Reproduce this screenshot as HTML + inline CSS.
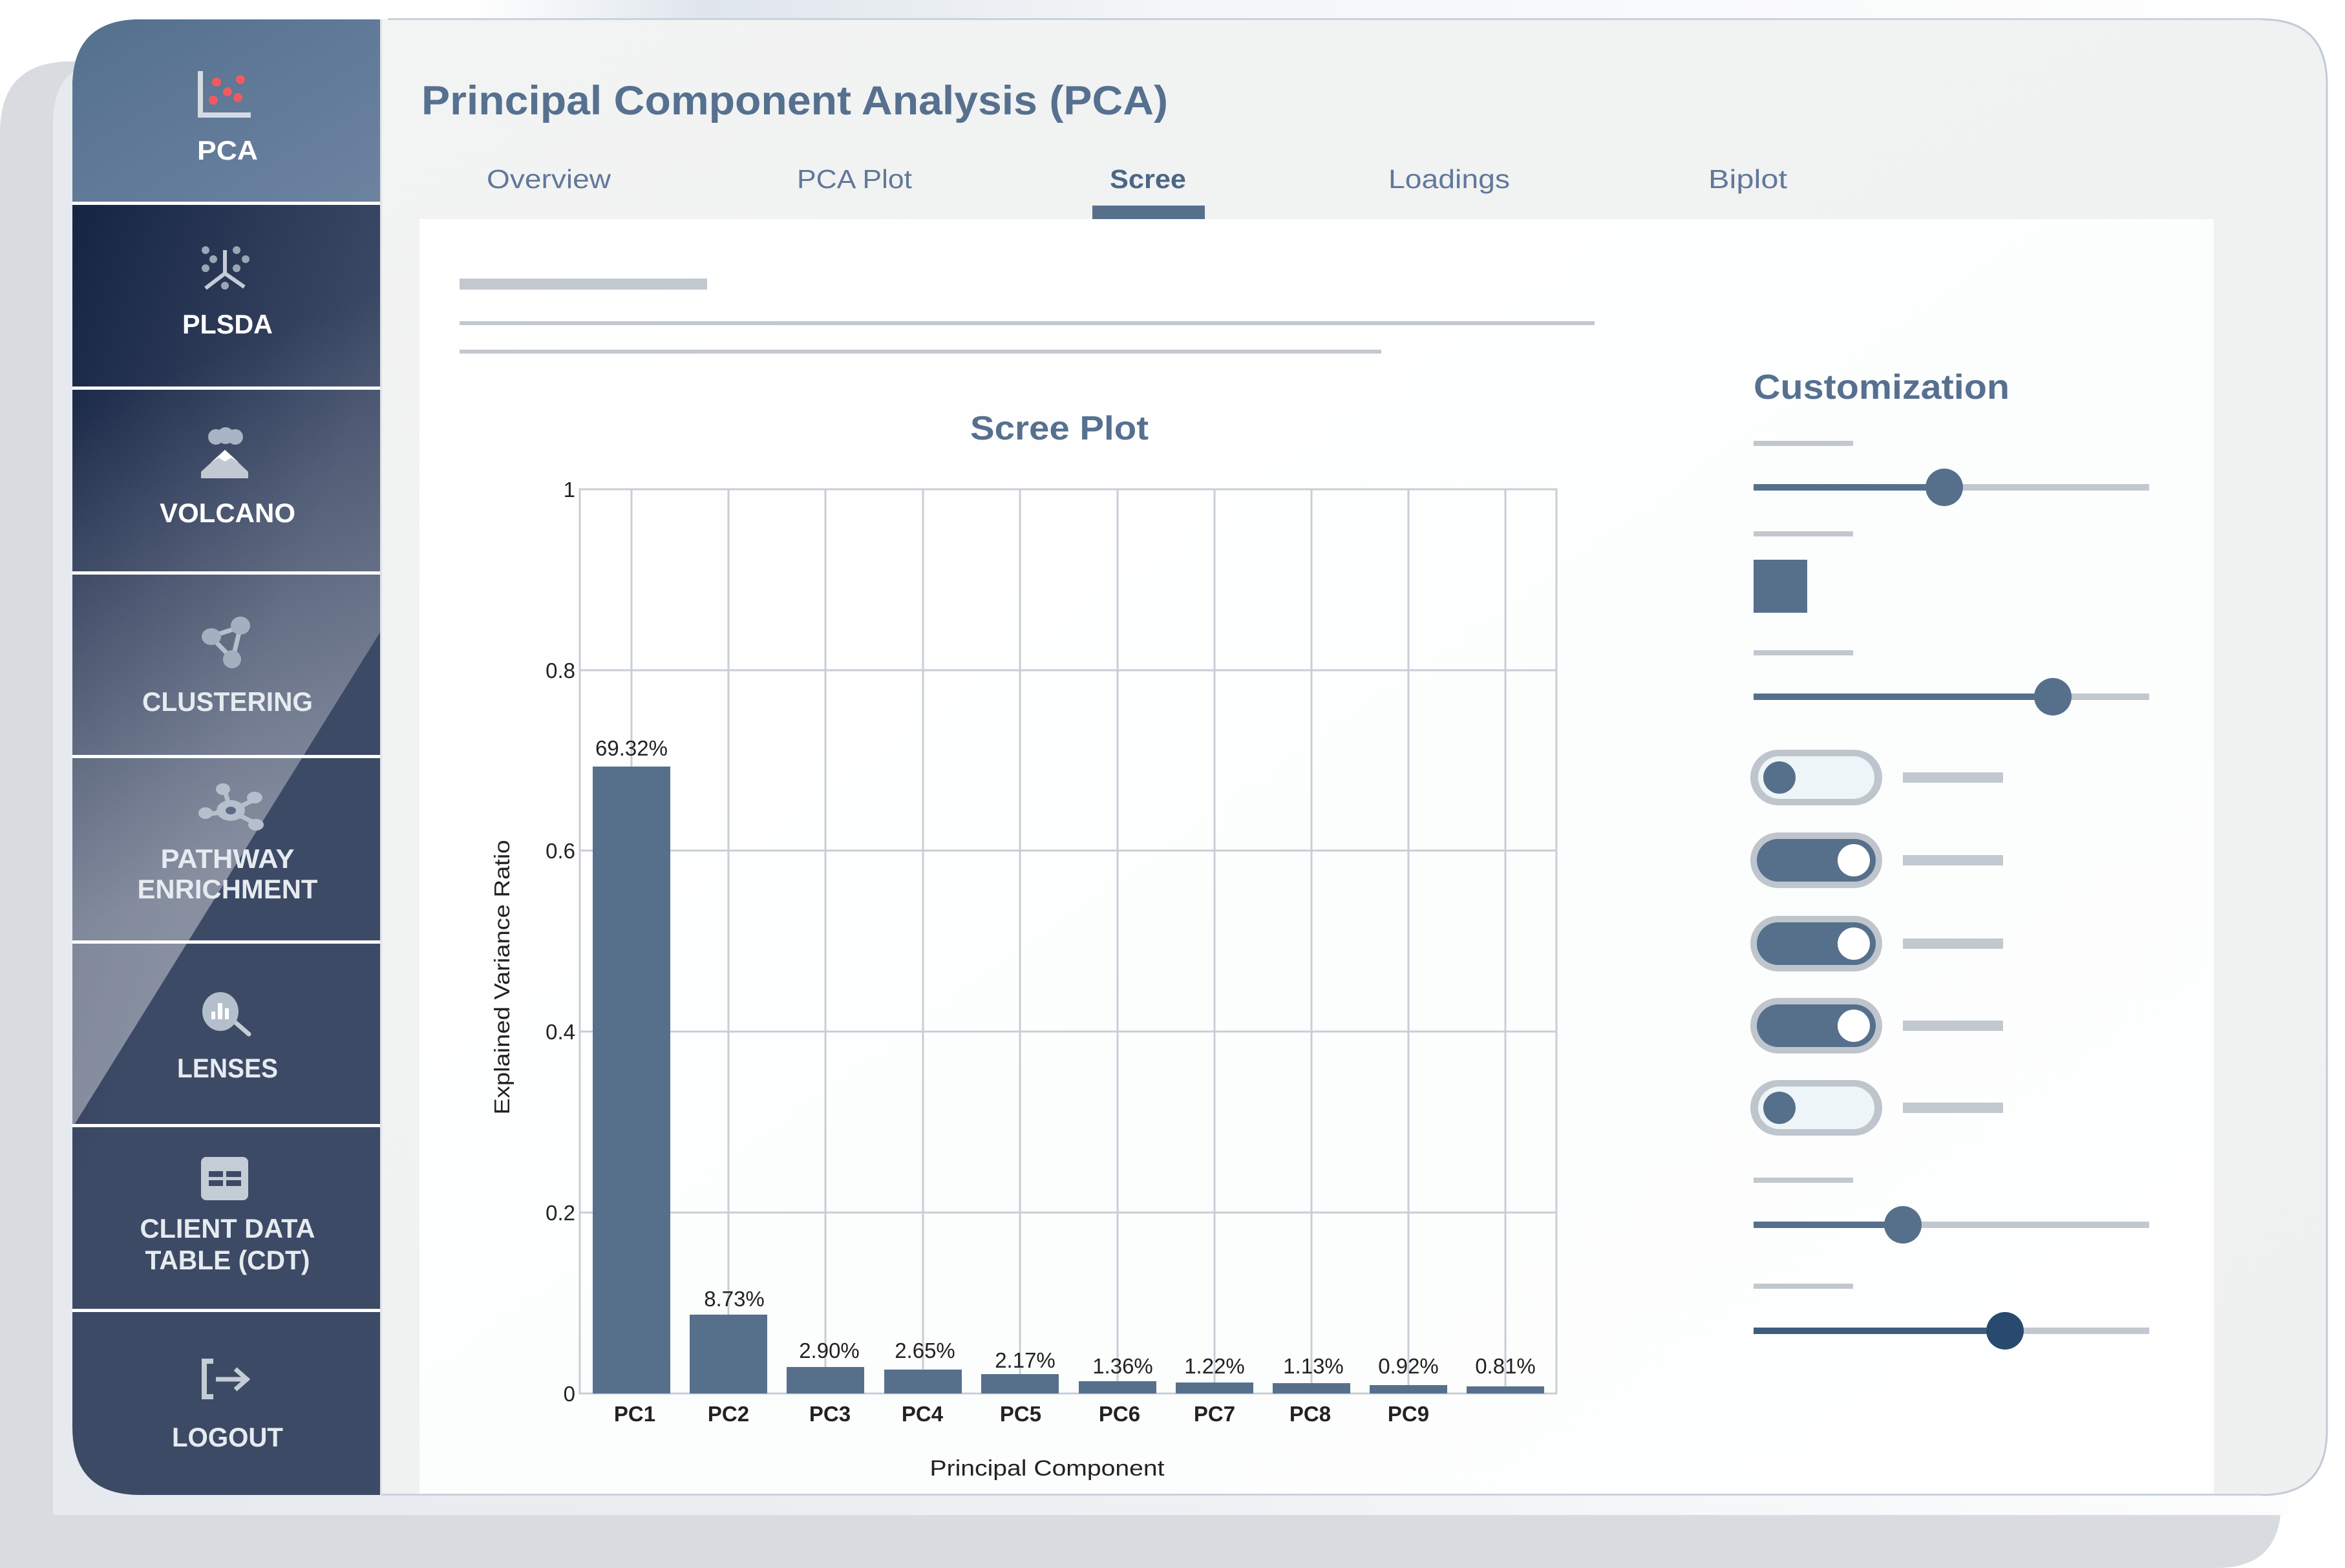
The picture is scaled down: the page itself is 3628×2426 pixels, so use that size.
<!DOCTYPE html>
<html><head><meta charset="utf-8"><style>
html,body{margin:0;padding:0;background:#fff;}
svg{display:block;}
text{font-family:"Liberation Sans",sans-serif;}
</style></head><body>
<svg width="3628" height="2426" viewBox="0 0 3628 2426" xmlns="http://www.w3.org/2000/svg">
<defs>
<linearGradient id="topbg" x1="0" y1="0" x2="1" y2="0">
<stop offset="0" stop-color="#ffffff"/><stop offset="0.2" stop-color="#ffffff"/><stop offset="0.3" stop-color="#dfe6ec"/><stop offset="0.5" stop-color="#f4f6f8"/><stop offset="1" stop-color="#ffffff"/>
</linearGradient>
<linearGradient id="lightl" x1="0" y1="0" x2="1" y2="0">
<stop offset="0" stop-color="#e6eaee"/><stop offset="0.5" stop-color="#eef1f3"/><stop offset="1" stop-color="#fdfdfd"/>
</linearGradient>
<linearGradient id="pcag" x1="0" y1="0" x2="1" y2="1">
<stop offset="0" stop-color="#54708f"/><stop offset="1" stop-color="#6c83a0"/>
</linearGradient>
<linearGradient id="sideg" x1="0" y1="0" x2="0.6" y2="1">
<stop offset="0" stop-color="#0f1d3e"/><stop offset="0.35" stop-color="#2a3856"/><stop offset="0.6" stop-color="#3d4a66"/><stop offset="1" stop-color="#3d4a66"/>
</linearGradient>
<linearGradient id="glare" gradientUnits="userSpaceOnUse" x1="200" y1="600" x2="470" y2="1300">
<stop offset="0" stop-color="#ffffff" stop-opacity="0"/><stop offset="1" stop-color="#ffffff" stop-opacity="0.38"/>
</linearGradient>
<linearGradient id="mainbg" x1="0" y1="0" x2="1" y2="1">
<stop offset="0" stop-color="#f2f3f3"/><stop offset="1" stop-color="#eff1f1"/>
</linearGradient>
<linearGradient id="whitep" x1="0" y1="0" x2="1" y2="1">
<stop offset="0" stop-color="#ffffff"/><stop offset="0.6" stop-color="#fcfdfd"/><stop offset="1" stop-color="#fefefe"/>
</linearGradient>
<clipPath id="cardclip"><path d="M217 30 H3500 Q3600 30 3600 130 V2213 Q3600 2313 3500 2313 H217 Q112 2313 112 2208 V135 Q112 30 217 30 Z"/></clipPath>
</defs>

<rect width="3628" height="2426" fill="#ffffff"/>
<rect x="0" y="0" width="3628" height="40" fill="url(#topbg)"/>
<path d="M110 95 H3430 Q3529 95 3529 195 V2326 Q3529 2426 3429 2426 H0 V205 Q0 95 110 95 Z" fill="#d8dce1"/>
<path d="M180 92 H3500 Q3540 92 3540 172 V2344 H82 V190 Q82 92 180 92 Z" fill="url(#lightl)"/>

<g clip-path="url(#cardclip)">
<rect x="112" y="30" width="3490" height="2283" fill="url(#mainbg)"/>
<rect x="112" y="30" width="478" height="2283" fill="url(#sideg)"/>
<polygon points="112,30 590,30 590,975 112,1745" fill="url(#glare)"/>
<rect x="112" y="30" width="478" height="284" fill="url(#pcag)"/>
<g fill="#ffffff">
<rect x="112" y="312" width="478" height="5"/>
<rect x="112" y="598" width="478" height="5"/>
<rect x="112" y="884" width="478" height="5"/>
<rect x="112" y="1168" width="478" height="5"/>
<rect x="112" y="1455" width="478" height="5"/>
<rect x="112" y="1739" width="478" height="5"/>
<rect x="112" y="2025" width="478" height="5"/>
</g>
<rect x="588" y="30" width="3" height="2283" fill="#dfe3e8"/>
<rect x="649" y="339" width="2776" height="1974" fill="url(#whitep)"/>
</g>
<path d="M3500 30 Q3600 30 3600 130 V2213 Q3600 2313 3500 2313" fill="none" stroke="#c3cbd6" stroke-width="3"/>
<rect x="600" y="28" width="2900" height="3" fill="#c9d2dc"/>
<rect x="590" y="2311" width="2910" height="3" fill="#c9d2dc"/>

<g fill="#ffffff" font-weight="bold" font-size="42" text-anchor="middle">
<path d="M310 110 V178 H388" fill="none" stroke="#d5dbe2" stroke-width="8"/>
<circle cx="335" cy="127" r="7" fill="#f05a5f"/><circle cx="372" cy="123" r="7" fill="#f05a5f"/>
<circle cx="352" cy="142" r="7" fill="#f05a5f"/><circle cx="330" cy="155" r="7" fill="#f05a5f"/><circle cx="368" cy="151" r="7" fill="#f05a5f"/>
<text x="352" y="247" textLength="94" lengthAdjust="spacingAndGlyphs">PCA</text>
<g fill="#9aa6b6"><circle cx="318" cy="387" r="6"/><circle cx="330" cy="401" r="6"/><circle cx="318" cy="415" r="6"/><circle cx="366" cy="387" r="6"/><circle cx="380" cy="401" r="6"/><circle cx="366" cy="415" r="6"/><circle cx="348" cy="442" r="6"/></g>
<path d="M348 387 V423 L318 446 M348 423 L378 444" fill="none" stroke="#c4ccd6" stroke-width="6"/>
<text x="352" y="516" textLength="140" lengthAdjust="spacingAndGlyphs">PLSDA</text>
<g fill="#a8b4c3"><circle cx="334" cy="676" r="12"/><circle cx="349" cy="674" r="13"/><circle cx="364" cy="676" r="12"/></g>
<path d="M311 740 V730 L348 696 L384 730 V740 Z" fill="#c2c9d2"/><path d="M326 716 L348 696 L370 716 L358 708 L348 714 L338 708 Z" fill="#fff"/>
<text x="352" y="808" textLength="210" lengthAdjust="spacingAndGlyphs">VOLCANO</text>
<path d="M326 985 L372 970 L360 1020 Z" fill="none" stroke="#b5c0cd" stroke-width="7"/>
<g fill="#a3b0c0"><ellipse cx="327" cy="985" rx="15" ry="13"/><ellipse cx="372" cy="968" rx="15" ry="14"/><ellipse cx="359" cy="1020" rx="14" ry="14"/></g>
<text x="352" y="1100" fill="#e6ebf0" textLength="264" lengthAdjust="spacingAndGlyphs">CLUSTERING</text>
<path d="M318 1260 L357 1255 M347 1220 L357 1255 L396 1236 M357 1255 L398 1275" fill="none" stroke="#b5c0cd" stroke-width="7"/>
<g fill="#b5c0cd"><ellipse cx="357" cy="1254" rx="22" ry="16"/><ellipse cx="318" cy="1258" rx="11" ry="9"/><ellipse cx="345" cy="1221" rx="11" ry="9"/><ellipse cx="394" cy="1234" rx="12" ry="9"/><ellipse cx="396" cy="1276" rx="12" ry="9"/></g>
<ellipse cx="357" cy="1254" rx="8" ry="6" fill="#5c6a84"/>
<text x="352" y="1343" fill="#e6ebf0" textLength="207" lengthAdjust="spacingAndGlyphs">PATHWAY</text>
<text x="352" y="1390" fill="#e6ebf0" textLength="279" lengthAdjust="spacingAndGlyphs">ENRICHMENT</text>
<path d="M362 1580 L385 1600" stroke="#c4ccd6" stroke-width="7" stroke-linecap="round"/>
<ellipse cx="341" cy="1565" rx="28" ry="30" fill="#b4bfcc"/>
<g fill="#fff"><rect x="327" y="1565" width="6" height="12"/><rect x="337" y="1552" width="7" height="25"/><rect x="348" y="1560" width="6" height="17"/></g>
<text x="352" y="1667" fill="#e6ebf0" textLength="156" lengthAdjust="spacingAndGlyphs">LENSES</text>
<rect x="311" y="1790" width="73" height="67" rx="8" fill="#c4ccd6"/>
<rect x="323" y="1812" width="50" height="9" fill="#3d4a66"/><rect x="323" y="1826" width="50" height="9" fill="#3d4a66"/>
<rect x="345" y="1808" width="5" height="30" fill="#c4ccd6"/>
<text x="352" y="1915" fill="#e6ebf0" textLength="271" lengthAdjust="spacingAndGlyphs">CLIENT DATA</text>
<text x="352" y="1964" fill="#e6ebf0" textLength="255" lengthAdjust="spacingAndGlyphs">TABLE (CDT)</text>
<path d="M330 2106 H316 V2161 H330" fill="none" stroke="#c4ccd6" stroke-width="8"/>
<path d="M334 2134 H380 M364 2118 L382 2134 L364 2150" fill="none" stroke="#c4ccd6" stroke-width="7"/>
<text x="352" y="2238" fill="#e6ebf0" textLength="172" lengthAdjust="spacingAndGlyphs">LOGOUT</text>
</g>

<text x="652" y="177" font-size="63" font-weight="bold" fill="#56708f" textLength="1155" lengthAdjust="spacingAndGlyphs">Principal Component Analysis (PCA)</text>
<g font-size="41" fill="#61789a" text-anchor="middle">
<text x="849" y="291" textLength="192" lengthAdjust="spacingAndGlyphs">Overview</text>
<text x="1322" y="291" textLength="178" lengthAdjust="spacingAndGlyphs">PCA Plot</text>
<text x="1776" y="291" font-weight="bold" fill="#4c6686" textLength="118" lengthAdjust="spacingAndGlyphs">Scree</text>
<text x="2242" y="291" textLength="188" lengthAdjust="spacingAndGlyphs">Loadings</text>
<text x="2704" y="291" textLength="122" lengthAdjust="spacingAndGlyphs">Biplot</text>
</g>
<rect x="1690" y="318" width="174" height="21" fill="#56708c"/>

<rect x="711" y="431" width="383" height="17" fill="#c2c8cf"/>
<rect x="711" y="497" width="1756" height="6" fill="#c2c8cf"/>
<rect x="711" y="541" width="1426" height="6" fill="#c2c8cf"/>

<text x="1639" y="680" font-size="52" font-weight="bold" fill="#56708f" text-anchor="middle" textLength="276" lengthAdjust="spacingAndGlyphs">Scree Plot</text>
<g stroke="#c8ced6" stroke-width="3" fill="none">
<rect x="897" y="757" width="1511" height="1399"/>
<line x1="897" y1="1037" x2="2408" y2="1037"/>
<line x1="897" y1="1316" x2="2408" y2="1316"/>
<line x1="897" y1="1596" x2="2408" y2="1596"/>
<line x1="897" y1="1876" x2="2408" y2="1876"/>
<line x1="977" y1="757" x2="977" y2="2156"/>
<line x1="1127" y1="757" x2="1127" y2="2156"/>
<line x1="1277" y1="757" x2="1277" y2="2156"/>
<line x1="1428" y1="757" x2="1428" y2="2156"/>
<line x1="1578" y1="757" x2="1578" y2="2156"/>
<line x1="1729" y1="757" x2="1729" y2="2156"/>
<line x1="1879" y1="757" x2="1879" y2="2156"/>
<line x1="2029" y1="757" x2="2029" y2="2156"/>
<line x1="2179" y1="757" x2="2179" y2="2156"/>
<line x1="2329" y1="757" x2="2329" y2="2156"/>
</g>
<g fill="#56708c">
<rect x="917" y="1186" width="120" height="970"/>
<rect x="1067" y="2034" width="120" height="122"/>
<rect x="1217" y="2115" width="120" height="41"/>
<rect x="1368" y="2119" width="120" height="37"/>
<rect x="1518" y="2126" width="120" height="30"/>
<rect x="1669" y="2137" width="120" height="19"/>
<rect x="1819" y="2139" width="120" height="17"/>
<rect x="1969" y="2140" width="120" height="16"/>
<rect x="2119" y="2143" width="120" height="13"/>
<rect x="2269" y="2145" width="120" height="11"/>
</g>
<g font-size="33" fill="#222" text-anchor="middle">
<text x="977" y="1169">69.32%</text>
<text x="1136" y="2021">8.73%</text>
<text x="1283" y="2101">2.90%</text>
<text x="1431" y="2101">2.65%</text>
<text x="1586" y="2116">2.17%</text>
<text x="1737" y="2125">1.36%</text>
<text x="1879" y="2125">1.22%</text>
<text x="2032" y="2125">1.13%</text>
<text x="2179" y="2125">0.92%</text>
<text x="2329" y="2125">0.81%</text>
</g>
<g font-size="33" fill="#222" text-anchor="end">
<text x="890" y="769">1</text>
<text x="890" y="1049">0.8</text>
<text x="890" y="1328">0.6</text>
<text x="890" y="1608">0.4</text>
<text x="890" y="1888">0.2</text>
<text x="890" y="2168">0</text>
</g>
<g font-size="33" font-weight="bold" fill="#222" text-anchor="middle">
<text x="982" y="2199">PC1</text><text x="1127" y="2199">PC2</text><text x="1284" y="2199">PC3</text>
<text x="1427" y="2199">PC4</text><text x="1579" y="2199">PC5</text><text x="1732" y="2199">PC6</text>
<text x="1879" y="2199">PC7</text><text x="2027" y="2199">PC8</text><text x="2179" y="2199">PC9</text>
</g>
<text x="1620" y="2283" font-size="34" fill="#222" text-anchor="middle" textLength="363" lengthAdjust="spacingAndGlyphs">Principal Component</text>
<text transform="translate(788,1512) rotate(-90)" font-size="33" fill="#222" text-anchor="middle" textLength="425" lengthAdjust="spacingAndGlyphs">Explained Variance Ratio</text>

<text x="2713" y="617" font-size="54" font-weight="bold" fill="#56708f" textLength="396" lengthAdjust="spacingAndGlyphs">Customization</text>
<g fill="#c2c8cf">
<rect x="2713" y="682" width="154" height="8"/>
<rect x="2713" y="822" width="154" height="8"/>
<rect x="2713" y="1006" width="154" height="8"/>
<rect x="2713" y="1822" width="154" height="8"/>
<rect x="2713" y="1986" width="154" height="8"/>
</g>
<rect x="2713" y="749" width="612" height="10" fill="#c2c8cf"/><rect x="2713" y="749" width="295" height="10" fill="#56708c"/><circle cx="3008" cy="754" r="29" fill="#56708c"/>
<rect x="2713" y="866" width="83" height="82" fill="#56708c"/>
<rect x="2713" y="1073" width="612" height="10" fill="#c2c8cf"/><rect x="2713" y="1073" width="463" height="10" fill="#56708c"/><circle cx="3176" cy="1078" r="29" fill="#56708c"/>
<rect x="2713" y="1890" width="612" height="10" fill="#c2c8cf"/><rect x="2713" y="1890" width="231" height="10" fill="#56708c"/><circle cx="2944" cy="1895" r="29" fill="#56708c"/>
<rect x="2713" y="2054" width="612" height="10" fill="#c2c8cf"/><rect x="2713" y="2054" width="389" height="10" fill="#3f5c7e"/><circle cx="3102" cy="2059" r="29" fill="#284a6e"/>
<g>
<rect x="2708" y="1160" width="204" height="86" rx="43" fill="#bfc5cc"/><rect x="2720" y="1170" width="180" height="66" rx="33" fill="#eef5f8"/><circle cx="2753" cy="1203" r="25" fill="#56708c"/>
<rect x="2708" y="1288" width="204" height="86" rx="43" fill="#bfc5cc"/><rect x="2718" y="1298" width="184" height="66" rx="33" fill="#56708c"/><circle cx="2868" cy="1331" r="25" fill="#fff"/>
<rect x="2708" y="1417" width="204" height="86" rx="43" fill="#bfc5cc"/><rect x="2718" y="1427" width="184" height="66" rx="33" fill="#56708c"/><circle cx="2868" cy="1460" r="25" fill="#fff"/>
<rect x="2708" y="1544" width="204" height="86" rx="43" fill="#bfc5cc"/><rect x="2718" y="1554" width="184" height="66" rx="33" fill="#56708c"/><circle cx="2868" cy="1587" r="25" fill="#fff"/>
<rect x="2708" y="1671" width="204" height="86" rx="43" fill="#bfc5cc"/><rect x="2720" y="1681" width="180" height="66" rx="33" fill="#eef5f8"/><circle cx="2753" cy="1714" r="25" fill="#56708c"/>
</g>
<g fill="#c2c8cf">
<rect x="2944" y="1195" width="155" height="16"/>
<rect x="2944" y="1323" width="155" height="16"/>
<rect x="2944" y="1452" width="155" height="16"/>
<rect x="2944" y="1579" width="155" height="16"/>
<rect x="2944" y="1706" width="155" height="16"/>
</g>
</svg>
</body></html>
